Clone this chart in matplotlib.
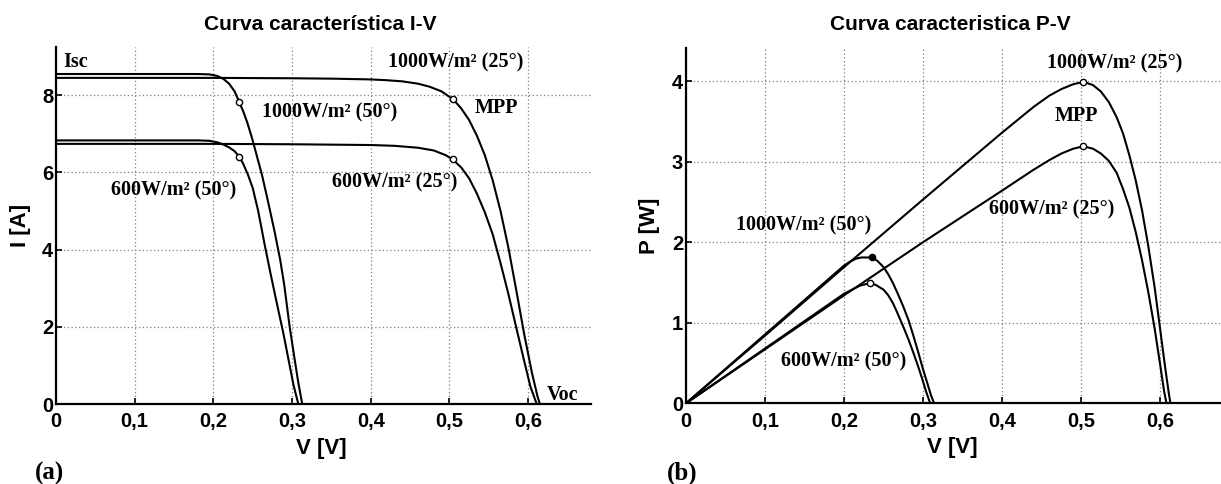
import matplotlib
matplotlib.use("Agg")
import matplotlib.pyplot as plt

# ---- I-V curves ----
v_iv_1000_25 = [0.0, 0.1, 0.2, 0.3, 0.35, 0.40, 0.42, 0.44, 0.46, 0.475, 0.49, 0.505, 0.515, 0.525,
                0.535, 0.545, 0.555, 0.565, 0.575, 0.585, 0.595, 0.605, 0.612, 0.615]
i_iv_1000_25 = [8.45, 8.45, 8.45, 8.44, 8.43, 8.41, 8.39, 8.36, 8.30, 8.22, 8.10, 7.89, 7.66, 7.36,
                6.95, 6.45, 5.80, 5.00, 4.05, 2.95, 1.82, 0.80, 0.20, 0.0]

v_iv_600_25 = [0.0, 0.1, 0.2, 0.3, 0.40, 0.43, 0.46, 0.48, 0.495, 0.504, 0.515, 0.525, 0.535, 0.545,
               0.555, 0.565, 0.575, 0.585, 0.595, 0.603, 0.611]
i_iv_600_25 = [6.74, 6.74, 6.74, 6.73, 6.71, 6.69, 6.64, 6.57, 6.45, 6.34, 6.13, 5.85, 5.45, 4.97,
               4.40, 3.65, 2.85, 1.98, 1.12, 0.45, 0.0]

v_iv_1000_50 = [0.0, 0.1, 0.18, 0.195, 0.205, 0.213, 0.220, 0.227, 0.233, 0.238, 0.243, 0.249, 0.255,
                0.262, 0.270, 0.278, 0.285, 0.290, 0.297, 0.303, 0.308, 0.313]
i_iv_1000_50 = [8.55, 8.55, 8.55, 8.54, 8.50, 8.42, 8.30, 8.10, 7.82, 7.58, 7.30, 6.90, 6.45,
                5.92, 5.20, 4.45, 3.73, 3.10, 2.00, 1.20, 0.55, 0.0]

v_iv_600_50 = [0.0, 0.1, 0.18, 0.195, 0.205, 0.213, 0.220, 0.227, 0.233, 0.238, 0.244, 0.250, 0.257,
               0.265, 0.273, 0.281, 0.289, 0.296, 0.302, 0.308]
i_iv_600_50 = [6.83, 6.83, 6.83, 6.82, 6.78, 6.72, 6.65, 6.55, 6.41, 6.22, 5.94, 5.60, 5.00,
               4.15, 3.35, 2.58, 1.83, 1.10, 0.48, 0.0]

# MPP points on the I-V panel
mpp_iv_v = [0.505, 0.504, 0.233, 0.233]
mpp_iv_i = [7.89, 6.34, 7.82, 6.41]

# ---- P-V curves ----
v_pv_1000_25 = [0.0, 0.1, 0.2, 0.3, 0.4, 0.42, 0.44, 0.46, 0.475, 0.49, 0.503, 0.515, 0.525, 0.535,
                0.545, 0.553, 0.561, 0.569, 0.577, 0.585, 0.593, 0.600, 0.606, 0.611, 0.613]
p_pv_1000_25 = [0.0, 0.84, 1.69, 2.53, 3.36, 3.52, 3.68, 3.82, 3.90, 3.96, 3.99, 3.95, 3.87, 3.74,
                3.55, 3.35, 3.08, 2.77, 2.40, 1.95, 1.44, 0.92, 0.47, 0.12, 0.0]

v_pv_600_25 = [0.0, 0.1, 0.2, 0.3, 0.4, 0.42, 0.44, 0.46, 0.475, 0.49, 0.503, 0.515, 0.525, 0.535,
               0.545, 0.553, 0.561, 0.569, 0.577, 0.585, 0.593, 0.600, 0.605, 0.608]
p_pv_600_25 = [0.0, 0.67, 1.34, 2.00, 2.64, 2.77, 2.90, 3.02, 3.10, 3.16, 3.19, 3.16, 3.10, 3.01,
               2.86, 2.66, 2.43, 2.13, 1.78, 1.38, 0.93, 0.48, 0.15, 0.0]

v_pv_1000_50 = [0.0, 0.1, 0.2, 0.208, 0.215, 0.222, 0.235, 0.242, 0.250, 0.256, 0.262, 0.268, 0.275,
                0.282, 0.288, 0.294, 0.300, 0.306, 0.310, 0.314]
p_pv_1000_50 = [0.0, 0.855, 1.71, 1.76, 1.795, 1.81, 1.81, 1.77, 1.69, 1.60, 1.49, 1.36, 1.20,
                1.02, 0.83, 0.63, 0.42, 0.23, 0.10, 0.0]

v_pv_600_50 = [0.0, 0.1, 0.2, 0.21, 0.22, 0.228, 0.233, 0.240, 0.250, 0.256, 0.262, 0.268, 0.275,
               0.282, 0.288, 0.294, 0.299, 0.304, 0.309]
p_pv_600_50 = [0.0, 0.68, 1.36, 1.41, 1.46, 1.48, 1.49, 1.47, 1.41, 1.34, 1.24, 1.11, 0.95,
               0.78, 0.62, 0.45, 0.30, 0.14, 0.0]

mpp_pv_v = [0.503, 0.503, 0.233]
mpp_pv_p = [3.99, 3.19, 1.49]
mpp_pv_filled_v = [0.235]
mpp_pv_filled_p = [1.81]

x_ticks = [0, 0.1, 0.2, 0.3, 0.4, 0.5, 0.6]
x_ticklabels = ["0", "0,1", "0,2", "0,3", "0,4", "0,5", "0,6"]
i_ticks = [0, 2, 4, 6, 8]
p_ticks = [0, 1, 2, 3, 4]

serif = ["Liberation Serif", "DejaVu Serif"]
sans = ["Liberation Sans", "DejaVu Sans"]
line_kw = dict(color="black", lw=1.5)
mark_kw = dict(ls="none", marker="o", ms=4.5, mfc="white", mec="black", mew=1.0)
note_kw = dict(family=serif, fontweight="bold", fontsize=14.5, ha="center", va="center")

fig = plt.figure(figsize=(12.21, 4.84), dpi=100)
ax1 = fig.add_axes([56 / 1221, 80 / 484, 535 / 1221, 357 / 484])
ax2 = fig.add_axes([686 / 1221, 80.7 / 484, 535 / 1221, 355.3 / 484])


def style_axes(ax, yticks):
    for side in ["top", "right"]:
        ax.spines[side].set_visible(False)
    for side in ["left", "bottom"]:
        ax.spines[side].set_linewidth(1.6)
    ax.set_xticks(x_ticks)
    ax.set_xticklabels(x_ticklabels)
    ax.set_yticks(yticks)
    ax.grid(True, color="#808080", lw=0.9, ls=(0, (1, 2)))
    ax.set_axisbelow(True)
    ax.tick_params(direction="in", length=4, width=1.2, labelsize=14.5)
    ax.tick_params(axis="x", pad=6)
    ax.tick_params(axis="y", pad=2)
    for lab in ax.get_xticklabels() + ax.get_yticklabels():
        lab.set_family(sans)
        lab.set_fontweight("bold")


# (a) I-V
ax1.plot(v_iv_1000_25, i_iv_1000_25, **line_kw)
ax1.plot(v_iv_600_25, i_iv_600_25, **line_kw)
ax1.plot(v_iv_1000_50, i_iv_1000_50, **line_kw)
ax1.plot(v_iv_600_50, i_iv_600_50, **line_kw)
ax1.plot(mpp_iv_v, mpp_iv_i, **mark_kw)
ax1.set_xlim(0, 0.68)
ax1.set_ylim(0, 9.25)
style_axes(ax1, i_ticks)
ax1.set_xlabel("V [V]", family=sans, fontweight="bold", fontsize=16)
ax1.set_ylabel("I [A]", family=sans, fontweight="bold", fontsize=16)
ax1.xaxis.set_label_coords(0.496, -0.095)
ax1.yaxis.set_label_coords(-0.046, 0.5)

ax1.text(0.009, 8.86, "Isc", **{**note_kw, "ha": "left"})
ax1.text(0.508, 8.86, "1000W/m² (25°)", **note_kw)
ax1.text(0.560, 7.67, "MPP", **note_kw)
ax1.text(0.348, 7.56, "1000W/m² (50°)", **note_kw)
ax1.text(0.431, 5.73, "600W/m² (25°)", **note_kw)
ax1.text(0.149, 5.52, "600W/m² (50°)", **note_kw)
ax1.text(0.624, 0.23, "Voc", **{**note_kw, "ha": "left"})

# (b) P-V
ax2.plot(v_pv_1000_25, p_pv_1000_25, **line_kw)
ax2.plot(v_pv_600_25, p_pv_600_25, **line_kw)
ax2.plot(v_pv_1000_50, p_pv_1000_50, **line_kw)
ax2.plot(v_pv_600_50, p_pv_600_50, **line_kw)
ax2.plot(mpp_pv_v, mpp_pv_p, **mark_kw)
ax2.plot(mpp_pv_filled_v, mpp_pv_filled_p, **{**mark_kw, "mfc": "black"})
ax2.set_xlim(0, 0.677)
ax2.set_ylim(0, 4.41)
style_axes(ax2, p_ticks)
ax2.set_xlabel("V [V]", family=sans, fontweight="bold", fontsize=16)
ax2.set_ylabel("P [W]", family=sans, fontweight="bold", fontsize=16)
ax2.xaxis.set_label_coords(0.498, -0.095)
ax2.yaxis.set_label_coords(-0.049, 0.5)

ax2.text(0.543, 4.22, "1000W/m² (25°)", **note_kw)
ax2.text(0.494, 3.57, "MPP", **note_kw)
ax2.text(0.463, 2.40, "600W/m² (25°)", **note_kw)
ax2.text(0.149, 2.21, "1000W/m² (50°)", **note_kw)
ax2.text(0.200, 0.52, "600W/m² (50°)", **note_kw)

# titles and panel letters
fig.text(320 / 1221, 1 - 24 / 484, "Curva característica I-V", family=sans, fontsize=15,
         fontweight="bold", ha="center", va="center")
fig.text(950 / 1221, 1 - 24 / 484, "Curva caracteristica P-V", family=sans, fontsize=15,
         fontweight="bold", ha="center", va="center")
fig.text(50 / 1221, 1 - 473 / 484, "(a)", family=serif, fontweight="bold", fontsize=18,
         ha="center", va="center")
fig.text(682 / 1221, 1 - 473 / 484, "(b)", family=serif, fontweight="bold", fontsize=18,
         ha="center", va="center")

fig.savefig("out.png", dpi=100)
